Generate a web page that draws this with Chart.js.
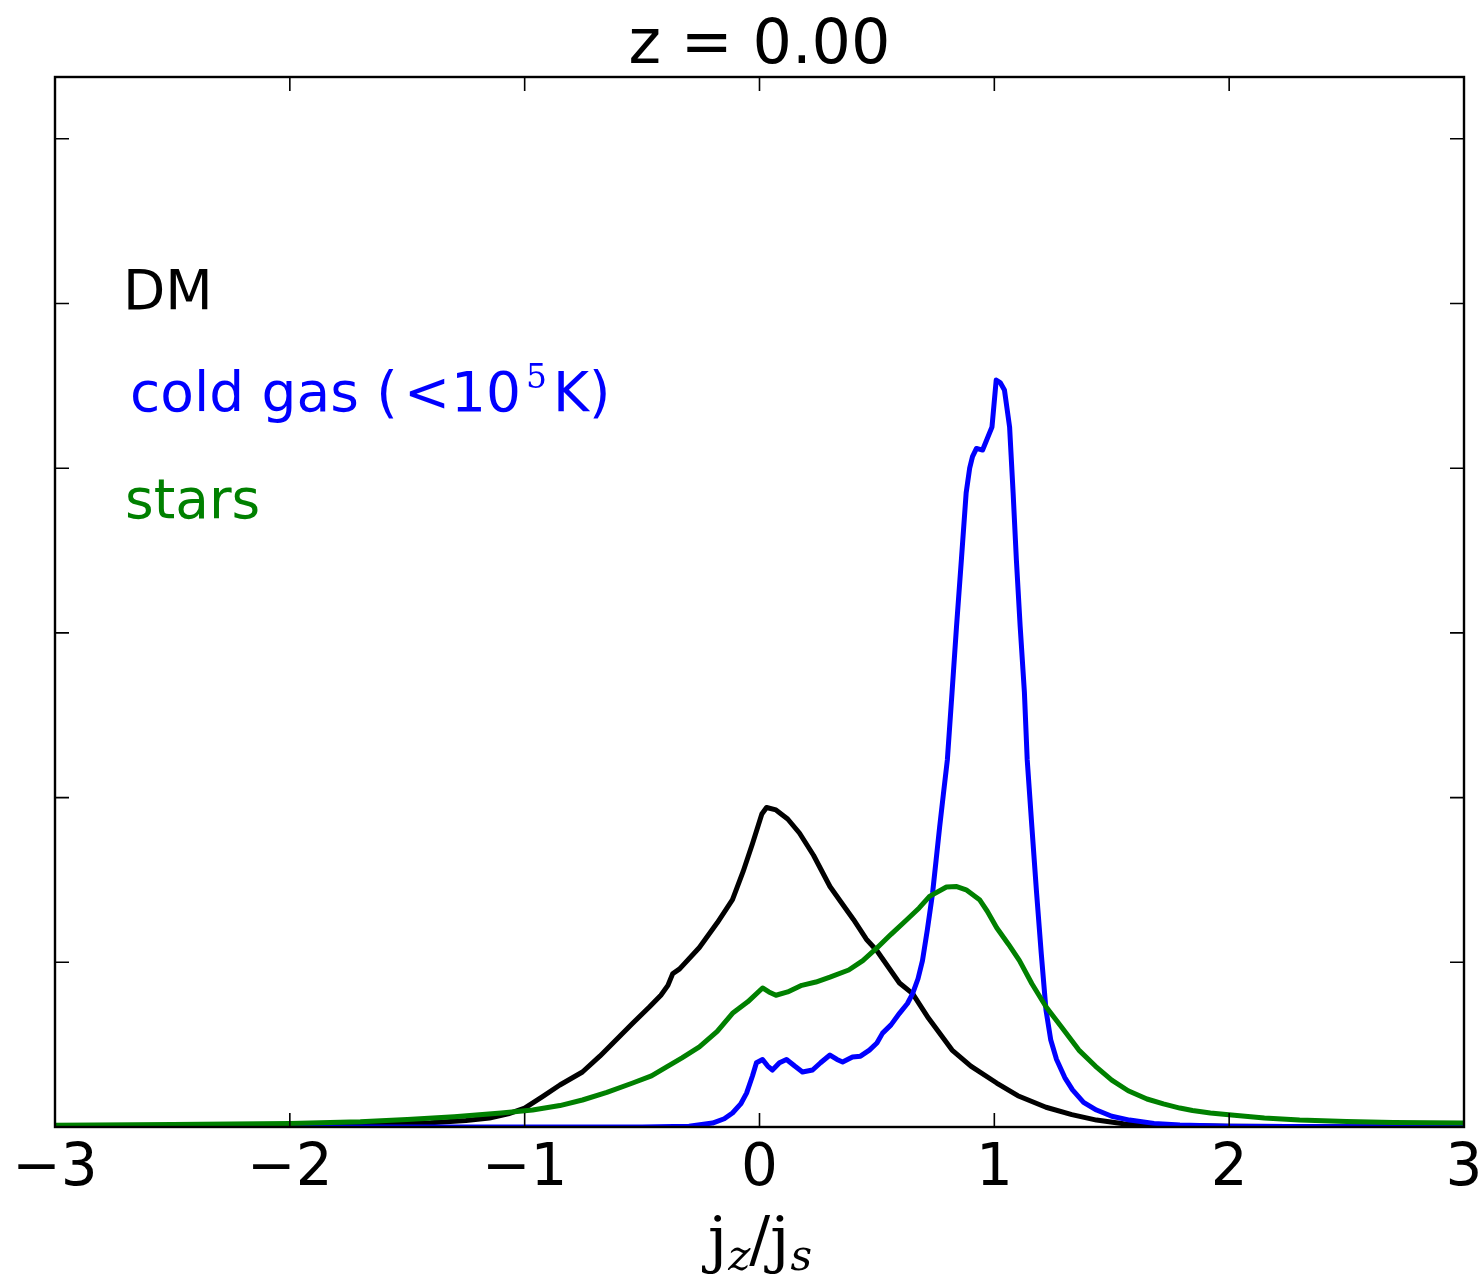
<!DOCTYPE html>
<html>
<head>
<meta charset="utf-8">
<script src="https://cdn.jsdelivr.net/npm/chart.js@4.4.1/dist/chart.umd.min.js"></script>
<style>
  html, body { margin: 0; padding: 0; background: #fff; }
  #wrap { width: 1484px; height: 1277px; }
</style>
</head>
<body>
<div id="wrap"><canvas id="myChart"></canvas></div>
<script>
const xTicks = [-3, -2, -1, 0, 1, 2, 3]
const yTicks = [0, 1, 2, 3, 4, 5, 6]

const dmX = [-3, -2.5, -2, -1.6, -1.4, -1.25, -1.15, -1.07, -1.0, -0.924, -0.85, -0.754, -0.68, -0.61, -0.54, -0.468, -0.42, -0.39, -0.37, -0.34, -0.256, -0.18, -0.115, -0.07, -0.03, 0.01, 0.03, 0.07, 0.12, 0.17, 0.23, 0.30, 0.34, 0.40, 0.455, 0.50, 0.596, 0.652, 0.72, 0.82, 0.9, 1.01, 1.1, 1.22, 1.33, 1.435, 1.55, 1.65, 2.0, 2.5, 3.0]
const dmY = [0.002, 0.004, 0.008, 0.016, 0.026, 0.04, 0.055, 0.08, 0.115, 0.185, 0.255, 0.334, 0.43, 0.53, 0.63, 0.73, 0.8, 0.86, 0.93, 0.96, 1.09, 1.24, 1.38, 1.55, 1.72, 1.9, 1.94, 1.925, 1.87, 1.785, 1.65, 1.46, 1.38, 1.26, 1.14, 1.07, 0.874, 0.81, 0.66, 0.467, 0.37, 0.267, 0.19, 0.12, 0.075, 0.042, 0.02, 0.012, 0.004, 0.002, 0.001]

const gasX = [-3, -1, -0.5, -0.3, -0.2, -0.15, -0.115, -0.08, -0.055, -0.03, -0.013, 0.013, 0.035, 0.055, 0.085, 0.115, 0.15, 0.183, 0.226, 0.26, 0.30, 0.33, 0.354, 0.396, 0.43, 0.468, 0.5, 0.524, 0.56, 0.596, 0.63, 0.652, 0.675, 0.694, 0.715, 0.737, 0.752, 0.767, 0.783, 0.80, 0.82, 0.839, 0.86, 0.88, 0.895, 0.907, 0.924, 0.95, 0.97, 0.99, 1.008, 1.025, 1.043, 1.065, 1.08, 1.094, 1.11, 1.128, 1.14, 1.16, 1.18, 1.20, 1.22, 1.24, 1.265, 1.3, 1.333, 1.38, 1.435, 1.5, 1.576, 1.68, 1.79, 2.0, 2.5, 3.0]
const gasY = [0, 0, 0, 0.005, 0.024, 0.05, 0.085, 0.14, 0.206, 0.31, 0.39, 0.41, 0.37, 0.346, 0.39, 0.41, 0.37, 0.334, 0.346, 0.39, 0.437, 0.41, 0.395, 0.425, 0.43, 0.467, 0.51, 0.57, 0.62, 0.69, 0.75, 0.81, 0.9, 1.01, 1.2, 1.42, 1.62, 1.82, 2.02, 2.23, 2.64, 3.04, 3.45, 3.85, 4.0, 4.07, 4.12, 4.11, 4.18, 4.25, 4.535, 4.52, 4.475, 4.25, 3.85, 3.44, 3.04, 2.64, 2.23, 1.82, 1.42, 1.05, 0.71, 0.53, 0.41, 0.3, 0.225, 0.15, 0.103, 0.065, 0.042, 0.022, 0.012, 0.005, 0.002, 0.001]

const starX = [-3, -2.5, -2.0, -1.7, -1.5, -1.3, -1.1, -0.966, -0.85, -0.754, -0.65, -0.54, -0.46, -0.397, -0.33, -0.256, -0.18, -0.115, -0.05, 0.013, 0.04, 0.07, 0.12, 0.18, 0.24, 0.30, 0.38, 0.44, 0.5, 0.56, 0.626, 0.68, 0.724, 0.796, 0.84, 0.88, 0.937, 0.97, 1.01, 1.06, 1.107, 1.16, 1.22, 1.29, 1.36, 1.43, 1.50, 1.57, 1.65, 1.72, 1.79, 1.844, 1.92, 2.01, 2.15, 2.3, 2.5, 2.7, 3.0]
const starY = [0.01, 0.015, 0.022, 0.032, 0.045, 0.062, 0.085, 0.103, 0.13, 0.164, 0.21, 0.267, 0.31, 0.364, 0.42, 0.486, 0.58, 0.69, 0.76, 0.844, 0.82, 0.8, 0.82, 0.86, 0.88, 0.91, 0.953, 1.01, 1.087, 1.17, 1.257, 1.33, 1.4, 1.457, 1.46, 1.44, 1.38, 1.31, 1.21, 1.11, 1.01, 0.87, 0.73, 0.6, 0.467, 0.37, 0.285, 0.22, 0.17, 0.14, 0.115, 0.1, 0.085, 0.073, 0.055, 0.042, 0.033, 0.028, 0.024]

const yMax = 6.375

function toPoints(xs, ys) {
    return xs.map((x, i) => ({ x: x, y: ys[i] }))
}

function line(xs, ys, color) {
    return {
        data: toPoints(xs, ys),
        borderColor: color,
        borderWidth: 5,
        pointRadius: 0,
        tension: 0,
        fill: false,
        borderJoinStyle: 'round'
    }
}

const frame = {
    id: 'frame',
    afterDraw(chart) {
        const { ctx, chartArea: a, scales } = chart
        ctx.save()
        ctx.strokeStyle = '#000'
        ctx.lineWidth = 1.6
        xTicks.forEach(v => {
            const px = scales.x.getPixelForValue(v)
            ctx.beginPath()
            ctx.moveTo(px, a.bottom); ctx.lineTo(px, a.bottom - 14)
            ctx.moveTo(px, a.top); ctx.lineTo(px, a.top + 14)
            ctx.stroke()
        })
        yTicks.forEach(v => {
            const py = scales.y.getPixelForValue(v)
            ctx.beginPath()
            ctx.moveTo(a.left, py); ctx.lineTo(a.left + 14, py)
            ctx.moveTo(a.right, py); ctx.lineTo(a.right - 14, py)
            ctx.stroke()
        })
        ctx.lineWidth = 2.4
        ctx.strokeRect(a.left, a.top, a.right - a.left, a.bottom - a.top)

        const cx = (a.left + a.right) / 2
        ctx.fillStyle = '#000'
        ctx.textAlign = 'center'
        ctx.textBaseline = 'alphabetic'
        ctx.font = '62px "DejaVu Sans"'
        ctx.fillText('z = 0.00', cx, 63)

        // x label j_z/j_s
        ctx.textAlign = 'left'
        let x = 708
        ctx.font = '62px "DejaVu Serif"'
        ctx.fillText('j', x, 1260)
        x += ctx.measureText('j').width + 1
        ctx.font = 'italic 42px "DejaVu Serif"'
        ctx.fillText('z', x, 1270)
        x += ctx.measureText('z').width - 1
        ctx.font = '62px "DejaVu Serif"'
        ctx.fillText('/', x, 1260)
        x += ctx.measureText('/').width
        ctx.fillText('j', x, 1260)
        x += ctx.measureText('j').width + 1
        ctx.font = 'italic 42px "DejaVu Serif"'
        ctx.fillText('s', x, 1270)

        // labels
        ctx.font = '55px "DejaVu Sans"'
        ctx.fillStyle = '#000'
        ctx.fillText('DM', 123, 309)
        ctx.fillStyle = '#0000ff'
        ctx.fillText('cold gas (', 130, 411)
        ctx.fillText('<', 404, 411)
        ctx.fillText('10', 451, 411)
        ctx.fillText('K)', 553, 411)
        ctx.font = '33px "DejaVu Serif"'
        ctx.fillText('5', 526, 388)
        ctx.fillStyle = '#008000'
        ctx.font = '55px "DejaVu Sans"'
        ctx.fillText('stars', 125, 518)
        ctx.restore()
    }
}

const ctx = document.getElementById('myChart')

new Chart(ctx, {
    type: 'line',
    data: {
        datasets: [
            line(starX, starY, '#008000'),
            line(gasX, gasY, '#0000ff'),
            line(dmX, dmY, '#000000')
        ]
    },
    options: {
        responsive: true,
        maintainAspectRatio: false,
        animation: false,
        layout: { padding: { top: 77, right: 20, left: 0, bottom: 0 } },
        plugins: { legend: { display: false }, tooltip: { enabled: false } },
        scales: {
            x: {
                type: 'linear',
                min: -3,
                max: 3,
                afterFit(scale) {
                    scale.height = 150
                    scale.paddingLeft = 0
                    scale.paddingRight = 0
                },
                afterBuildTicks(scale) { scale.ticks = xTicks.map(v => ({ value: v })) },
                grid: { display: false, drawTicks: false },
                border: { display: false },
                ticks: {
                    padding: 8,
                    color: '#000',
                    font: { family: 'DejaVu Sans', size: 58 },
                    maxRotation: 0,
                    callback: v => (v < 0 ? '\u2212' + Math.abs(v) : String(v))
                }
            },
            y: {
                type: 'linear',
                min: 0,
                max: yMax,
                afterFit(scale) { scale.width = 55 },
                grid: { display: false, drawTicks: false },
                border: { display: false },
                ticks: { display: false }
            }
        }
    },
    plugins: [frame]
})
</script>
</body>
</html>
